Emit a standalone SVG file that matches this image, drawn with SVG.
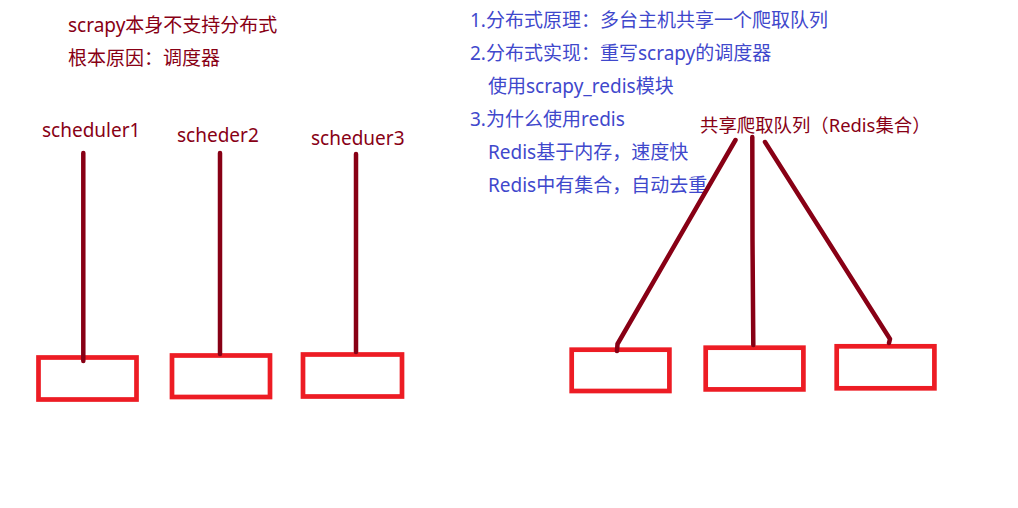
<svg xmlns="http://www.w3.org/2000/svg" width="1018" height="508" viewBox="0 0 1018 508">
<style>
.bg{fill:#ffffff}
.box{fill:none;stroke:#ED1C24;stroke-width:4.7}
.ln{fill:none;stroke:#880015;stroke-width:4.5;stroke-linecap:round;stroke-linejoin:round}
.t{font-family:"Noto Sans","Noto Sans CJK SC",sans-serif;font-size:19px}
.q{font-size:18.4px}
.red{fill:#880015}
.blue{fill:#3F48CC}
</style>
<rect class="bg" x="0" y="0" width="1018" height="508"/>
<g id="notes-left">
<text class="t red" x="68" y="32">scrapy本身不支持分布式</text>
<text class="t red" x="68" y="65">根本原因：调度器</text>
</g>
<g id="notes-right">
<text class="t blue" x="470" y="27">1.分布式原理：多台主机共享一个爬取队列</text>
<text class="t blue" x="470" y="60">2.分布式实现：重写scrapy的调度器</text>
<text class="t blue" x="488" y="93">使用scrapy_redis模块</text>
<text class="t blue" x="470" y="126">3.为什么使用redis</text>
<text class="t blue" x="488" y="159">Redis基于内存，速度快</text>
<text class="t blue" x="488" y="192">Redis中有集合，自动去重</text>
</g>
<g id="scheduler1"><text class="t red" x="42" y="137">scheduler1</text></g>
<g id="scheder2"><text class="t red" x="177" y="142">scheder2</text></g>
<g id="scheduer3"><text class="t red" x="311" y="145">scheduer3</text></g>
<g id="queue"><text class="t q red" x="700" y="132">共享爬取队列（Redis集合）</text></g>
<g id="box-l1"><rect class="box" x="38.5" y="357.5" width="98" height="42"/></g>
<g id="box-l2"><rect class="box" x="172" y="355.5" width="98" height="41.5"/></g>
<g id="box-l3"><rect class="box" x="303" y="354.5" width="99" height="42"/></g>
<g id="box-r1"><rect class="box" x="571.7" y="349.7" width="97.7" height="41.3"/></g>
<g id="box-r2"><rect class="box" x="705.7" y="347.7" width="97.7" height="41.7"/></g>
<g id="box-r3"><rect class="box" x="836.7" y="346.3" width="97.7" height="42"/></g>
<g id="connectors">
<path class="ln" d="M83.3 153 L83.3 361"/>
<path class="ln" d="M220 153 L220 354"/>
<path class="ln" d="M356 154 L356 352"/>
<path class="ln" d="M735.5 140 L617.5 344 L617 351"/>
<path class="ln" d="M752.3 137 L752.5 240 L753.3 345"/>
<path class="ln" d="M765 142 L890 339 L889 343"/>
</g>
</svg>
